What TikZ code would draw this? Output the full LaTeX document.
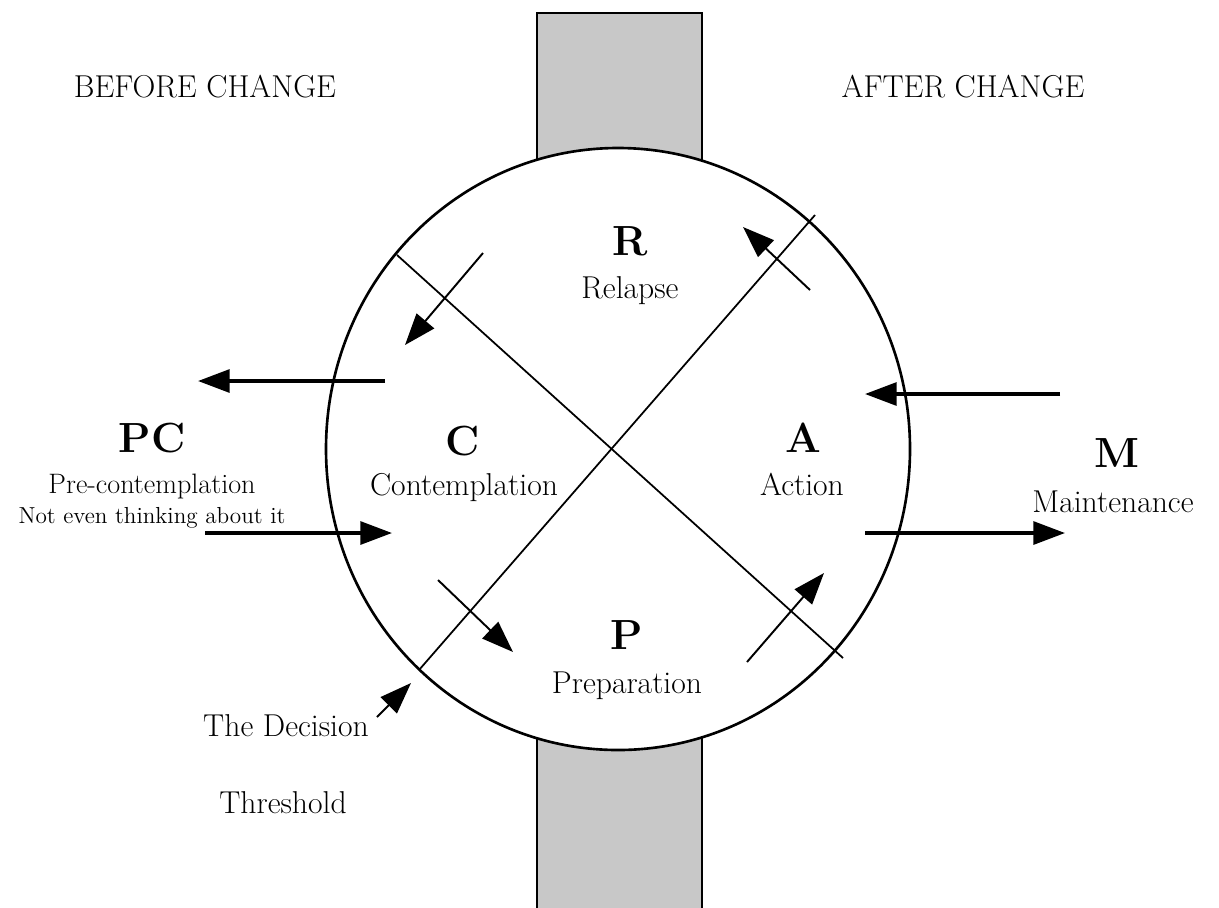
\documentclass[tikz,border=0pt]{standalone}
\usepackage{tikz}
\usetikzlibrary{arrows.meta}

\definecolor{gatefill}{RGB}{200,200,200}

\begin{document}
\begin{tikzpicture}[x=0.02cm,y=-0.02cm]
\useasboundingbox (0,0) rectangle (1219,907);

% the two gates, cut by the circle
\begin{scope}
    \clip (0,0) rectangle (1219,907);
    \draw[line width=1.6pt,fill=gatefill] (537,13) rectangle (702,200);
    \draw[line width=1.6pt,fill=gatefill] (537,700) rectangle (702,940);
\end{scope}
\draw[line width=1.5pt,fill=white] (618,449) ellipse [x radius=292,y radius=301];

% the two thresholds
\coordinate (tl) at (397,255);
\coordinate (br) at (843,658);
\coordinate (tr) at (815,215);
\coordinate (bl) at (419,670);
\draw[line width=1pt] (tl) -- (br);
\draw[line width=1pt] (tr) -- (bl);

\begin{scope}[every node/.style={anchor=base,font=\fontsize{18}{20}\selectfont}]
    \node (before) at (205,97) {BEFORE CHANGE};
    \node (after) at (963,97) {AFTER CHANGE};

    \node[font=\fontsize{24}{26}\selectfont\bfseries] (R) at (630,255) {R};
    \node (Rname) at (630,298) {Relapse};
    \node[font=\fontsize{24}{26}\selectfont\bfseries] (C) at (463,455) {C};
    \node (Cname) at (464,495) {Contemplation};
    \node[font=\fontsize{24}{26}\selectfont\bfseries] (A) at (803,452) {A};
    \node (Aname) at (802,495) {Action};
    \node[font=\fontsize{24}{26}\selectfont\bfseries] (P) at (627,649) {P};
    \node (Pname) at (627,693) {Preparation};
    \node[font=\fontsize{24}{26}\selectfont\bfseries] (PC) at (152,452) {PC};
    \node[font=\fontsize{16}{18}\selectfont] (PCname) at (152,493) {Pre-contemplation};
    \node[font=\fontsize{13.2}{15}\selectfont] (PCnote) at (152,523) {Not even thinking about it};
    \node[font=\fontsize{24}{26}\selectfont\bfseries] (M) at (1117,467) {M};
    \node (Mname) at (1113,512) {Maintenance};
    \node (decision) at (286,736) {The Decision};
    \node (threshold) at (283,813) {Threshold};
\end{scope}

\coordinate (pcOut1) at (385,381);
\coordinate (pcOut2) at (198,381);
\coordinate (pcIn1) at (205,533);
\coordinate (pcIn2) at (392,533);
\coordinate (mIn1) at (1060,394);
\coordinate (mIn2) at (865,394);
\coordinate (mOut1) at (865,533);
\coordinate (mOut2) at (1065,533);

\coordinate (rc1) at (483,253);
\coordinate (rc2) at (405,345);
\coordinate (ar1) at (810,290);
\coordinate (ar2) at (743,227);
\coordinate (cp1) at (438,580);
\coordinate (cp2) at (513,652);
\coordinate (pa1) at (747,662);
\coordinate (pa2) at (824,573);
\coordinate (dt1) at (377,717);
\coordinate (dt2) at (411,683);

\begin{scope}[>={Triangle[length=18pt,width=13pt]},
              every edge/.style={draw=black,line width=2pt}]
    \path [->] (pcOut1) edge (pcOut2);
    \path [->] (pcIn1) edge (pcIn2);
    \path [->] (mIn1) edge (mIn2);
    \path [->] (mOut1) edge (mOut2);
\end{scope}

\begin{scope}[>={Triangle[length=18pt,width=13pt]},
              every edge/.style={draw=black,line width=1.1pt}]
    \path [->] (rc1) edge (rc2);
    \path [->] (ar1) edge (ar2);
    \path [->] (cp1) edge (cp2);
    \path [->] (pa1) edge (pa2);
    \path [->] (dt1) edge (dt2);
\end{scope}

\end{tikzpicture}
\end{document}
